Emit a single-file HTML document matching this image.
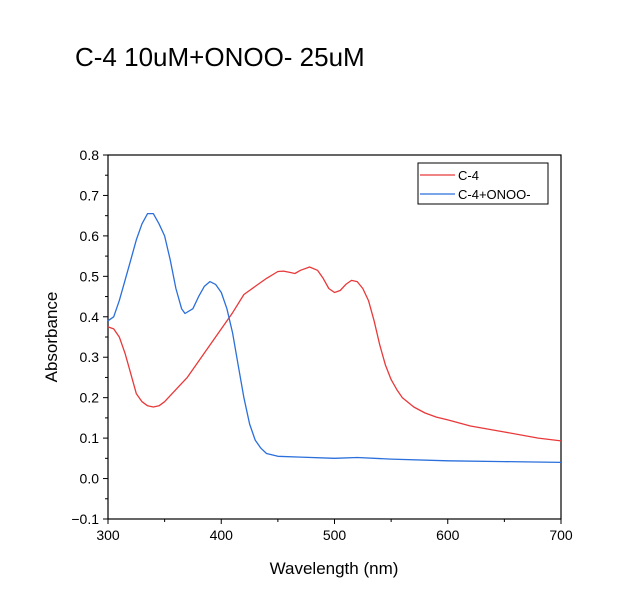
<!DOCTYPE html>
<html><head><meta charset="utf-8"><style>
body{margin:0;background:#fff;font-family:"Liberation Sans",Arial,sans-serif}
</style></head><body>
<svg width="618" height="594" xmlns="http://www.w3.org/2000/svg" id="svg" font-family="Liberation Sans, Arial, sans-serif">
<text x="75" y="66" font-size="26">C-4 10uM+ONOO- 25uM</text>
<g id="axes"></g>
<g id="series"></g>
<text x="334" y="574" font-size="17" text-anchor="middle">Wavelength (nm)</text>
<text transform="translate(57,337) rotate(-90)" font-size="17" text-anchor="middle">Absorbance</text>
<g>
<rect x="418" y="163" width="130" height="41" fill="#fff" stroke="#000" stroke-width="1"/>
<line x1="420" y1="175" x2="455" y2="175" stroke="#e8393a" stroke-width="1.3"/>
<text x="458" y="180" font-size="13">C-4</text>
<line x1="420" y1="194" x2="455" y2="194" stroke="#2a6fdb" stroke-width="1.3"/>
<text x="458" y="199" font-size="13">C-4+ONOO-</text>
</g>
</svg>
<script>
const xTicks=[300,400,500,600,700];
const yTicks=[-0.1,0,0.1,0.2,0.3,0.4,0.5,0.6,0.7,0.8];
const redX=[300,305,310,315,320,325,330,335,340,345,350,360,370,380,390,400,410,420,430,440,450,455,460,465,470,478,485,490,495,500,505,510,515,520,525,530,535,540,545,550,555,560,570,580,590,600,620,650,680,700];
const redY=[0.375,0.37,0.35,0.31,0.26,0.21,0.19,0.18,0.177,0.18,0.19,0.22,0.25,0.29,0.33,0.37,0.41,0.455,0.475,0.495,0.512,0.513,0.51,0.507,0.515,0.523,0.515,0.495,0.47,0.46,0.465,0.48,0.49,0.487,0.47,0.44,0.39,0.33,0.28,0.245,0.22,0.2,0.177,0.162,0.152,0.145,0.13,0.115,0.1,0.093];
const blueX=[300,305,310,315,320,325,330,335,340,345,350,355,360,365,368,375,380,385,390,395,400,405,410,415,420,425,430,435,440,450,470,500,520,550,600,650,700];
const blueY=[0.39,0.4,0.44,0.49,0.54,0.59,0.63,0.655,0.655,0.63,0.6,0.54,0.47,0.42,0.408,0.42,0.45,0.475,0.487,0.48,0.46,0.42,0.36,0.28,0.2,0.135,0.095,0.075,0.062,0.055,0.053,0.05,0.052,0.048,0.044,0.042,0.04];
const L=108,R=561,T=155,B=519;
const sx=v=>L+(v-300)/400*(R-L);
const sy=v=>B-(v+0.1)/0.9*(B-T);
const NS="http://www.w3.org/2000/svg";
function mk(tag,attrs,parent){const e=document.createElementNS(NS,tag);for(const k in attrs)e.setAttribute(k,attrs[k]);parent.appendChild(e);return e;}
const ax=document.getElementById('axes');
const frame=mk('rect',{x:L,y:T,width:R-L,height:B-T,fill:'none',stroke:'#000','stroke-width':1.2},ax);


for(let v=300;v<=700;v+=50){const maj=v%100===0;mk('line',{x1:sx(v),x2:sx(v),y1:B,y2:B+(maj?5:3),stroke:'#000'},ax);}
xTicks.forEach(v=>{const t=mk('text',{x:sx(v),y:B+21,'font-size':14,'text-anchor':'middle'},ax);t.textContent=v;

});
for(let i=0;i<=18;i++){const v=-0.1+i*0.05;const maj=i%2===0;mk('line',{x1:L,x2:L-(maj?5:3),y1:sy(v),y2:sy(v),stroke:'#000'},ax);}
yTicks.forEach(v=>{const t=mk('text',{x:L-9,y:sy(v)+5,'font-size':14,'text-anchor':'end'},ax);t.textContent=(v<0?'\u2212':'')+Math.abs(v).toFixed(1);

});
const sg=document.getElementById('series');
function line(xs,ys,color,name){const d=xs.map((x,i)=>(i?'L':'M')+sx(x).toFixed(1)+' '+sy(ys[i]).toFixed(1)).join(' ');
const p=mk('path',{d:d,fill:'none',stroke:color,'stroke-width':1.3,'stroke-linejoin':'round'},sg);

}
line(redX,redY,'#e8393a','c4-line');
line(blueX,blueY,'#2a6fdb','c4-onoo-line');
</script>
</body></html>
